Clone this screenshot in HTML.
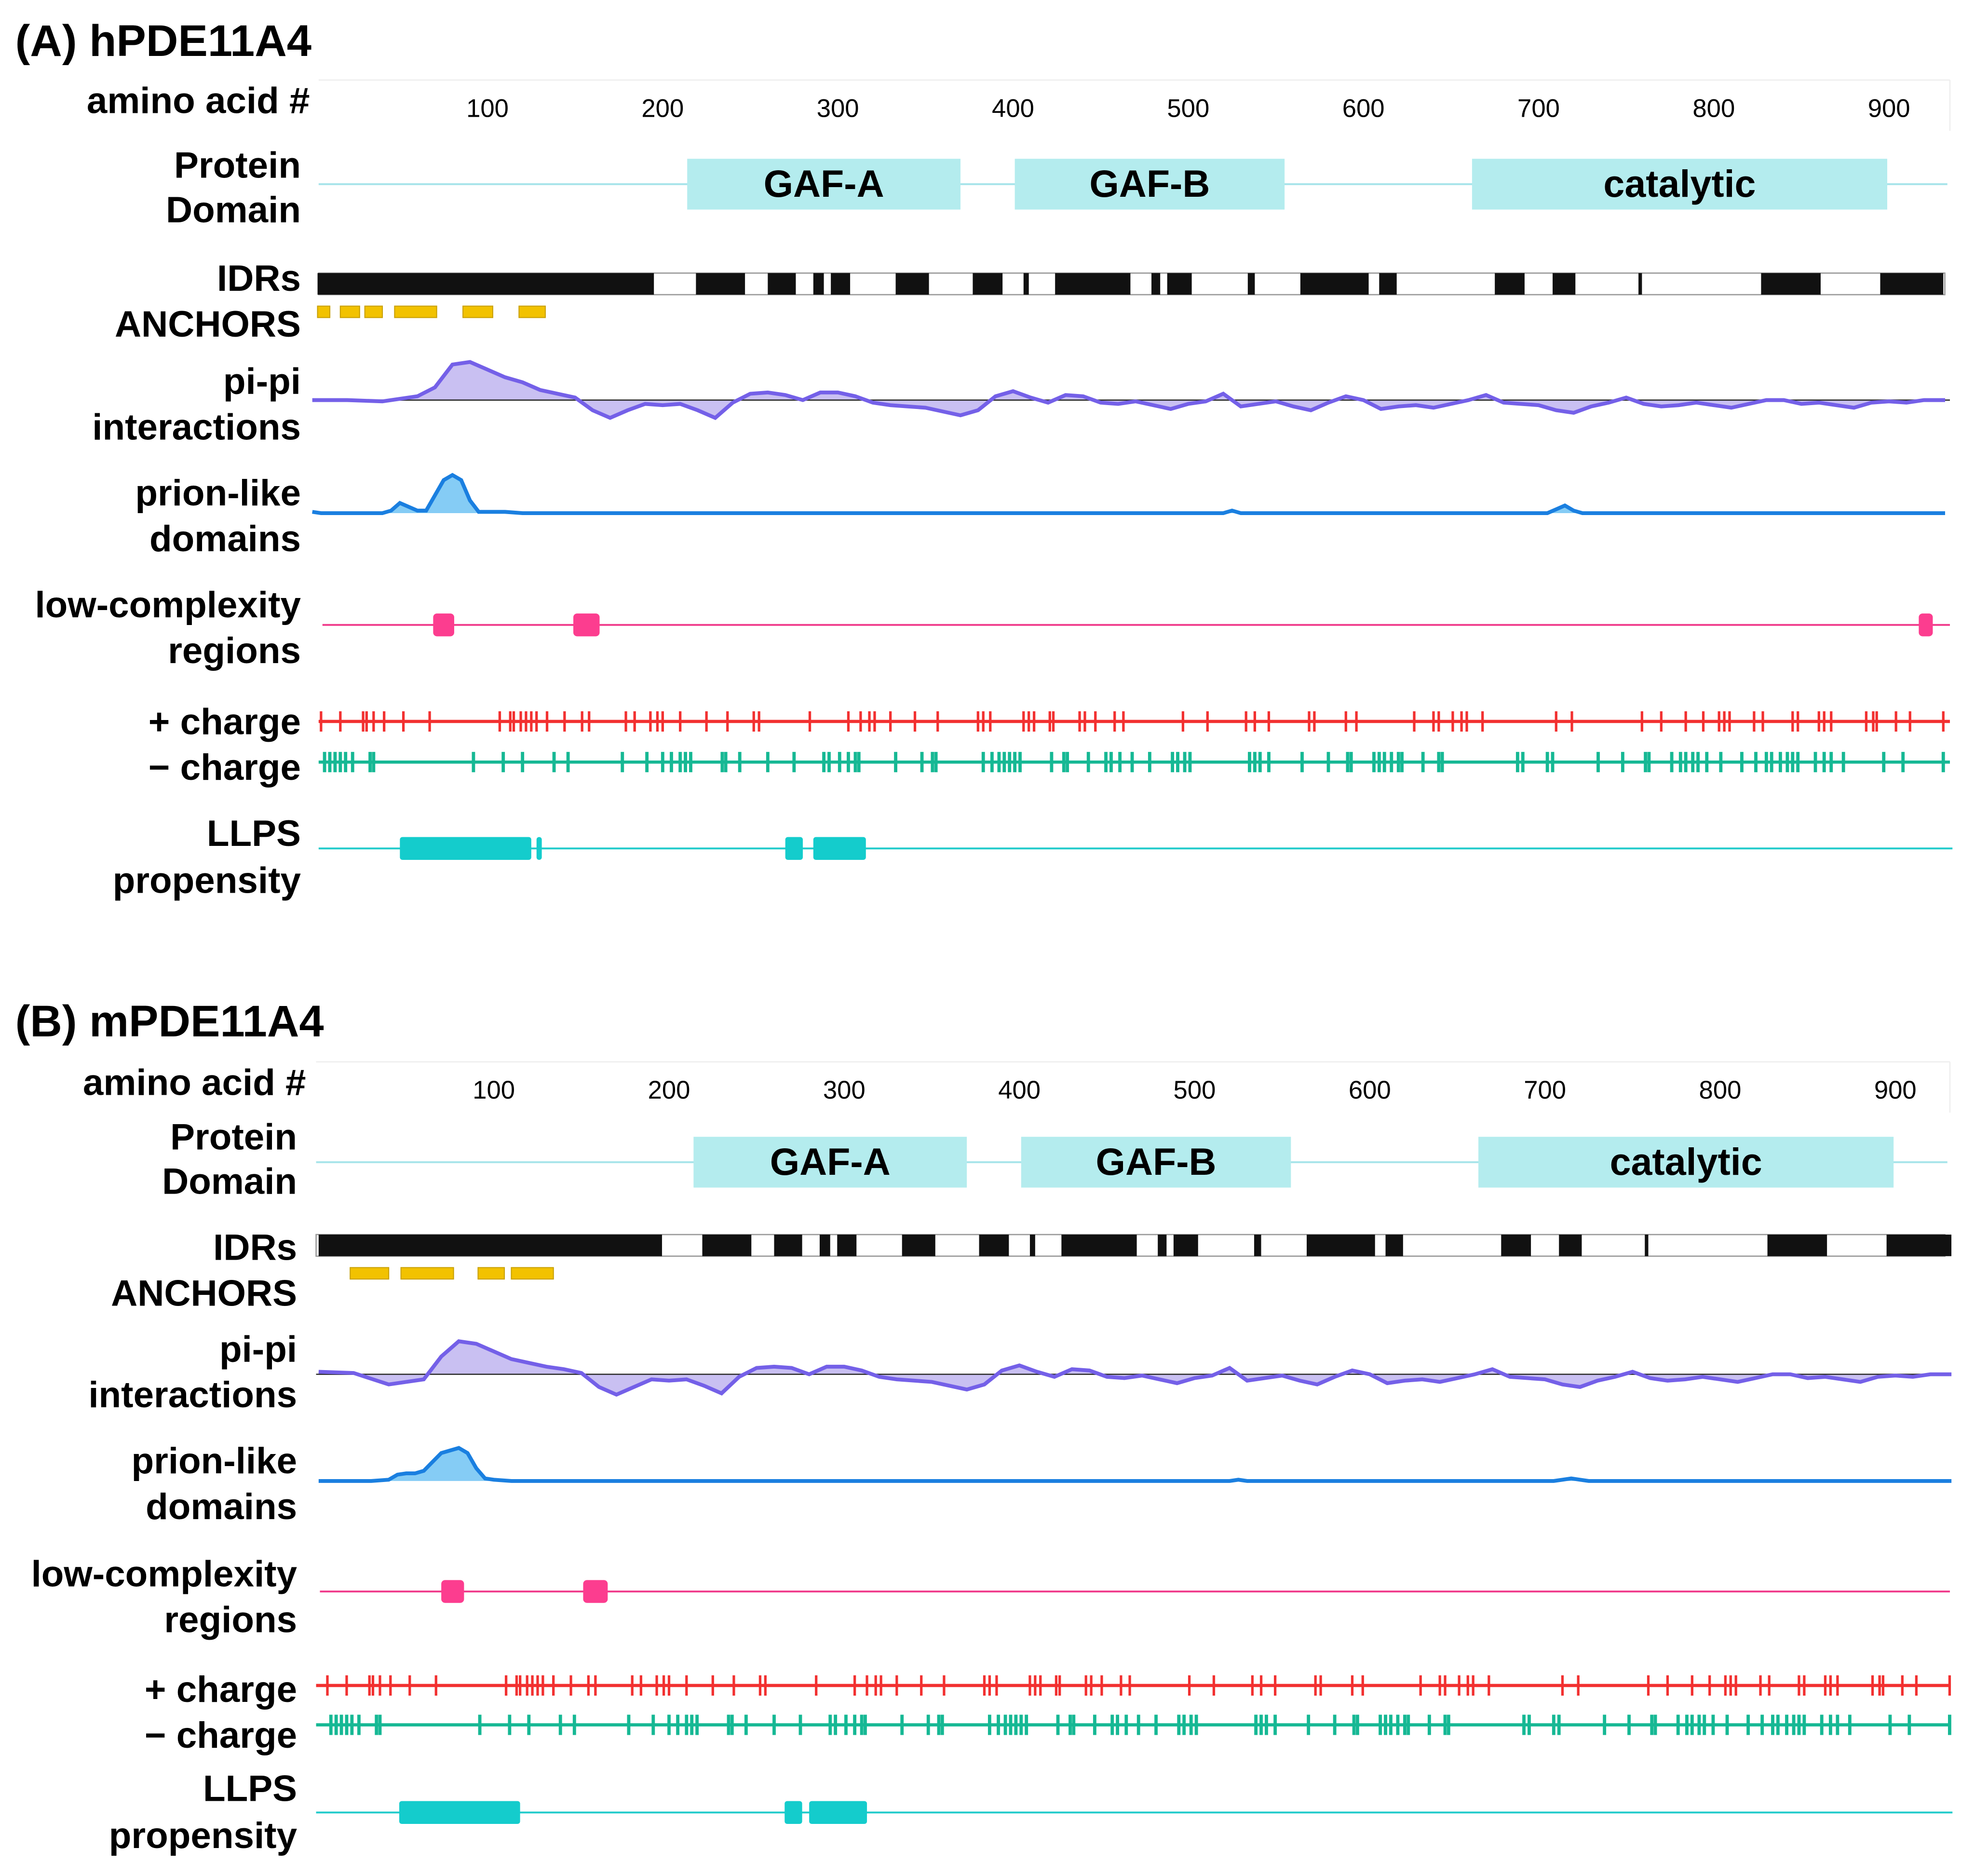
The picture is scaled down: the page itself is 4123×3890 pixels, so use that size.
<!DOCTYPE html>
<html><head><meta charset="utf-8"><style>
html,body{margin:0;padding:0;background:#fff;}
svg{display:block;}
text{font-family:"Liberation Sans",Arial,sans-serif;}
</style></head><body>
<svg id="fig" width="4123" height="3890" viewBox="0 0 1566 1477" preserveAspectRatio="none" xmlns="http://www.w3.org/2000/svg"></svg>
<script>
const ticks = [100,200,300,400,500,600,700,800,900];
const domainNames = ["GAF-A","GAF-B","catalytic"];
const domainStart = [214,401,662];
const domainEnd = [370,555,899];
const idrStartA = [3,219,260,286,296,333,377,406,424,479,488,534,564,609,675,708,757,827,895];
const idrEndA   = [195,247,276,292,307,352,394,409,467,484,502,538,603,619,692,721,759,861,931];
const idrStartB = [0,219,260,286,296,333,377,406,424,479,488,534,564,609,675,708,757,827,895];
const idrEndB   = [196,247,276,292,307,352,394,409,467,484,502,538,603,619,692,721,759,861,932];
const anchorStartA = [3,16,30,47,86,118];
const anchorEndA   = [10,27,40,71,103,133];
const anchorStartB = [18,47,91,110];
const anchorEndB   = [40,77,106,134];
const piAa = [0,20,40,60,70,80,90,100,110,120,130,140,150,160,170,180,190,200,210,220,230,240,250,260,270,280,290,300,310,320,330,340,350,360,370,380,390,400,410,420,430,440,450,460,470,480,490,500,510,520,530,540,550,560,570,580,590,600,610,620,630,640,650,660,670,680,690,700,710,720,730,740,750,760,770,780,790,800,810,820,830,840,850,860,870,880,890,900,910,920,932];
const piA = [0,0,-1,3,10,28,30,24,18,14,8,5,2,-8,-14,-8,-3,-4,-3,-8,-14,-2,5,6,4,0,6,6,3,-2,-4,-5,-6,-9,-12,-8,3,7,2,-2,4,3,-2,-3,-1,-4,-7,-3,-1,5,-5,-3,-1,-5,-8,-2,3,0,-7,-5,-4,-6,-3,0,4,-2,-3,-4,-8,-10,-5,-2,2,-3,-5,-4,-2,-4,-6,-3,0,0,-3,-2,-4,-6,-2,-1,-2,0,0];
const piB = [2,1,-8,-4,14,26,24,18,12,9,6,4,1,-10,-16,-10,-4,-5,-4,-9,-15,-2,5,6,5,0,6,6,3,-2,-4,-5,-6,-9,-12,-8,3,7,2,-2,4,3,-2,-3,-1,-4,-7,-3,-1,5,-5,-3,-1,-5,-8,-2,3,0,-7,-5,-4,-6,-3,0,4,-2,-3,-4,-8,-10,-5,-2,2,-3,-5,-4,-2,-4,-6,-3,0,0,-3,-2,-4,-6,-2,-1,-2,0,0];
const prAa = [0,5,30,40,45,50,55,60,65,70,75,80,85,90,95,100,110,120,500,520,525,530,700,705,710,715,720,725,932];
const prA  = [1,0,0,0,2,8,5,2,2,14,26,30,26,10,1,1,1,0,0,0,2,0,0,0,3,6,2,0,0];
const prB  = [0,0,0,1,5,6,6,8,15,22,24,26,22,10,2,1,0,0,0,0,1,0,0,0,1,2,1,0,0];
const lcrStartA = [69,149,917];
const lcrEndA   = [81,164,925];
const lcrStartB = [70,151];
const lcrEndB   = [83,165];
const posCharge = [5,16,29,31,35,41,52,67,107,113,115,119,122,125,128,134,144,154,158,179,184,193,197,200,210,225,237,252,255,284,306,313,318,321,330,344,357,380,383,387,406,409,412,421,423,438,441,447,458,463,497,511,533,538,546,569,572,590,596,629,640,643,651,656,659,668,710,719,759,770,784,794,803,806,809,823,828,845,848,860,863,867,887,891,893,904,912,931];
const negCharge = [7,10,13,16,19,23,33,35,92,109,120,138,146,177,191,200,205,210,213,216,234,236,244,260,275,292,295,301,306,310,312,333,348,354,356,383,388,392,395,398,401,404,422,429,431,443,453,456,461,468,478,491,494,498,501,535,538,541,546,565,580,591,593,606,609,612,616,620,622,634,643,645,688,691,705,708,734,748,761,763,776,781,784,788,791,796,804,816,824,830,833,838,842,845,848,858,863,867,874,897,908,931];
const llpsStartA = [50,128,270,286];
const llpsEndA   = [125,131,280,316];
const llpsStartB = [46,266,280];
const llpsEndB   = [115,276,313];

const NS="http://www.w3.org/2000/svg";
const svg=document.getElementById('fig');
function mk(tag,attrs,parent){const e=document.createElementNS(NS,tag);for(const k in attrs)e.setAttribute(k,attrs[k]);(parent||svg).appendChild(e);return e;}
function txt(s,x,y,size,anchor,parent){const t=mk('text',{x:x,y:y,'font-size':size,'font-weight':'bold','text-anchor':anchor,fill:'#000'},parent);t.textContent=s;return t;}

function panel(P){
  const g=mk('g',{});
  
  
  const X=aa=>P.x0+aa*1.38;
  const t=txt(P.title,12,P.ty,35,'start',g);
  
  
  const ax=mk('g',{},g);
  
  
  mk('line',{x1:P.l,x2:1536,y1:P.axY,y2:P.axY,stroke:'#eee','stroke-width':1},ax);
  mk('line',{x1:1536,x2:1536,y1:P.axY,y2:P.axY+40,stroke:'#eee','stroke-width':1},ax);
  ticks.forEach(v=>{const tl=mk('text',{x:X(v),y:P.axY+29,'font-size':20,'text-anchor':'middle',fill:'#000'},ax);tl.textContent=v;
    
    });
  const L=P.labY;
  const lab=(s,y,name,r)=>{const e=txt(s,r||P.lr,y,29,'end',g);};
  lab('amino acid #',P.axY+26,'amino-acid-label',P.lr+7);
  lab('Protein',L[0],'protein-domain-label');lab('Domain',L[1],'protein-domain-label-2');
  lab('IDRs',L[2],'idrs-label');lab('ANCHORS',L[3],'anchors-label');
  lab('pi-pi',L[4],'pi-pi-label');lab('interactions',L[5],'pi-pi-label-2');
  lab('prion-like',L[6],'prion-label');lab('domains',L[7],'prion-label-2');
  lab('low-complexity',L[8],'lcr-label');lab('regions',L[9],'lcr-label-2');
  lab('+ charge',L[10],'positive-charge-label');lab('\u2212 charge',L[11],'negative-charge-label');
  lab('LLPS',L[12],'llps-label');lab('propensity',L[13],'llps-label-2');
  const dy=P.domY;
  mk('line',{x1:P.l,x2:1534,y1:dy,y2:dy,stroke:'#a8e4ea','stroke-width':1.5},g);
  domainNames.forEach((n,i)=>{const r=mk('rect',{x:X(domainStart[i]),y:dy-20,width:X(domainEnd[i])-X(domainStart[i]),height:40,fill:'#b4ecee'},g);
    
    
    const tt=txt(n,(X(domainStart[i])+X(domainEnd[i]))/2,dy+10,30,'middle',g);
    
    });
  const iy=P.idrY;
  mk('rect',{x:P.l,y:iy,width:1532-P.l,height:17,fill:'#fff',stroke:'#999','stroke-width':1},g);
  P.idrS.forEach((s,i)=>{const r=mk('rect',{x:X(s),y:iy,width:Math.max(1.5,X(P.idrE[i])-X(s)),height:17,fill:'#111'},g);
    
    });
  P.anS.forEach((s,i)=>{const r=mk('rect',{x:X(s),y:iy+26,width:X(P.anE[i])-X(s),height:9,fill:'#f2c200',stroke:'#c9a000','stroke-width':0.8},g);
    
    });
  const pb=P.piY;
  let d='M'+X(piAa[0])+','+pb;
  piAa.forEach((a,i)=>{d+=' L'+X(a).toFixed(1)+','+(pb-P.pi[i]).toFixed(1);});
  d+=' L'+X(piAa[piAa.length-1])+','+pb+' Z';
  mk('path',{d:d,fill:'#c9c0f2',stroke:'none'},g);
  mk('line',{x1:P.l,x2:1536,y1:pb,y2:pb,stroke:'#333','stroke-width':1},g);
  let dl='';piAa.forEach((a,i)=>{dl+=(i?' L':'M')+X(a).toFixed(1)+','+(pb-P.pi[i]).toFixed(1);});
  const pl=mk('path',{d:dl,fill:'none',stroke:'#7460e8','stroke-width':3},g);
  
  
  const rb=P.prY;
  let d2='M'+X(prAa[0])+','+rb;prAa.forEach((a,i)=>{d2+=' L'+X(a).toFixed(1)+','+(rb-P.pr[i]).toFixed(1);});d2+=' L'+X(932)+','+rb+' Z';
  mk('path',{d:d2,fill:'#85ccf5'},g);
  let d3='';prAa.forEach((a,i)=>{d3+=(i?' L':'M')+X(a).toFixed(1)+','+(rb-P.pr[i]).toFixed(1);});
  const prl=mk('path',{d:d3,fill:'none',stroke:'#1a7fe0','stroke-width':3},g);
  
  
  const ly=P.lcrY;
  mk('line',{x1:P.l+3,x2:1536,y1:ly,y2:ly,stroke:'#f03c8c','stroke-width':1.5},g);
  P.lcrS.forEach((s,i)=>{const r=mk('rect',{x:X(s),y:ly-9,width:X(P.lcrE[i])-X(s),height:18,rx:3,fill:'#fc3d8f'},g);
    
    });
  const cy=P.posY;
  mk('line',{x1:P.l,x2:1536,y1:cy,y2:cy,stroke:'#f23030','stroke-width':2.5},g);
  posCharge.forEach(a=>{const l=mk('line',{x1:X(a),x2:X(a),y1:cy-8,y2:cy+8,stroke:'#f23030','stroke-width':2},g);
    
    });
  const ny=P.negY;
  mk('line',{x1:P.l,x2:1536,y1:ny,y2:ny,stroke:'#16b894','stroke-width':2.5},g);
  negCharge.forEach(a=>{const l=mk('line',{x1:X(a),x2:X(a),y1:ny-8,y2:ny+8,stroke:'#16b894','stroke-width':2.6},g);
    
    });
  const lly=P.llY;
  mk('line',{x1:P.l,x2:1538,y1:lly,y2:lly,stroke:'#22cbcb','stroke-width':1.5},g);
  P.llS.forEach((s,i)=>{const r=mk('rect',{x:X(s),y:lly-9,width:Math.max(2,X(P.llE[i])-X(s)),height:18,rx:2,fill:'#14cccc'},g);
    
    });
}
panel({id:'panel-a',title:'(A) hPDE11A4',ty:44,x0:246,l:251,lr:237,axY:63,domY:145,idrY:215,piY:315,prY:404,lcrY:492,posY:568,negY:600,llY:668,
  labY:[140,175,229,265,310,346,398,434,486,522,578,614,666,703],
  idrS:idrStartA,idrE:idrEndA,anS:anchorStartA,anE:anchorEndA,pi:piA,pr:prA,lcrS:lcrStartA,lcrE:lcrEndA,llS:llpsStartA,llE:llpsEndA});
panel({id:'panel-b',title:'(B) mPDE11A4',ty:816,x0:251,l:249,lr:234,axY:836,domY:915,idrY:972,piY:1082,prY:1166,lcrY:1253,posY:1327,negY:1358,llY:1427,
  labY:[905,940,992,1028,1072,1108,1160,1196,1249,1285,1340,1376,1418,1455],
  idrS:idrStartB,idrE:idrEndB,anS:anchorStartB,anE:anchorEndB,pi:piB,pr:prB,lcrS:lcrStartB,lcrE:lcrEndB,llS:llpsStartB,llE:llpsEndB});
</script>
</body></html>
